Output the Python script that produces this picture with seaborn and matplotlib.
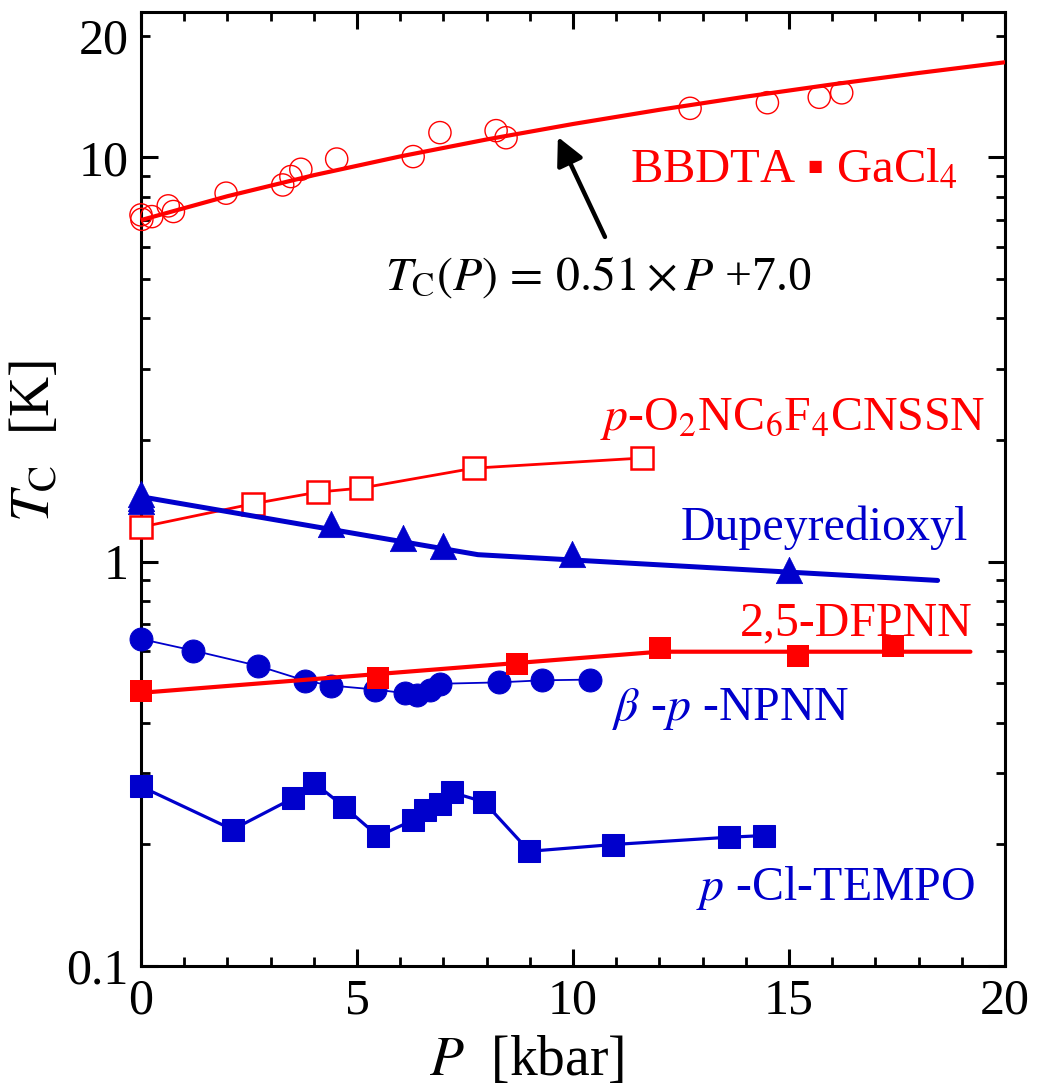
import numpy as np
import pandas as pd
import matplotlib
matplotlib.use("Agg")
import matplotlib.pyplot as plt
from matplotlib.ticker import FixedLocator, LogLocator, FuncFormatter, MultipleLocator
import seaborn as sns

# ---------------- data ----------------
bbdta_P = [0.0, 0.02, 0.25, 0.63, 0.75, 1.97, 3.28, 3.47, 3.70, 4.53, 6.30, 6.92, 8.22, 8.45, 12.71, 14.50, 15.70, 16.22]
bbdta_T = [7.21, 7.03, 7.14, 7.59, 7.35, 8.16, 8.55, 8.97, 9.35, 9.91, 10.05, 11.52, 11.65, 11.19, 13.23, 13.66, 14.09, 14.45]
fit_P = [0, 2, 4, 6, 8, 10, 12, 14, 16, 18, 20]
fit_T = [7.00, 8.02, 9.04, 10.06, 11.08, 12.10, 13.12, 14.14, 15.16, 16.18, 17.20]

po2_P = [0.0, 2.59, 4.10, 5.09, 7.71, 11.59]
po2_T = [1.218, 1.391, 1.487, 1.521, 1.704, 1.805]

dup_P = [0.0, 0.0, 0.0, 4.40, 6.07, 6.98, 9.97, 15.0]
dup_T = [1.47, 1.44, 1.415, 1.238, 1.148, 1.094, 1.048, 0.955]
dup_line_P = [0.0, 7.8, 18.44]
dup_line_T = [1.448, 1.041, 0.899]

dfpnn_P = [0.0, 5.49, 8.70, 12.01, 15.20, 17.40]
dfpnn_T = [0.478, 0.516, 0.560, 0.612, 0.586, 0.620]
dfpnn_line_P = [0.0, 12.0, 19.2]
dfpnn_line_T = [0.474, 0.599, 0.599]

npnn_P = [0.0, 1.21, 2.70, 3.80, 4.40, 5.42, 6.11, 6.40, 6.69, 6.91, 8.29, 9.29, 10.39]
npnn_T = [0.644, 0.603, 0.553, 0.508, 0.494, 0.483, 0.473, 0.469, 0.481, 0.499, 0.503, 0.509, 0.511]

tempo_P = [0.0, 2.12, 3.53, 4.01, 4.71, 5.49, 6.29, 6.57, 6.91, 7.19, 7.94, 8.99, 10.92, 13.60, 14.41]
tempo_T = [0.278, 0.2175, 0.2604, 0.2837, 0.2474, 0.2094, 0.2293, 0.2436, 0.2518, 0.2690, 0.2546, 0.1922, 0.1997, 0.2082, 0.2102]

x_ticks = [0, 5, 10, 15, 20]
y_labels = {0.1: "0.1", 1: "1", 10: "10", 20: "20"}

RED = "#ff0000"
BLUE = "#0000cc"

# ---------------- style ----------------
sns.set_style("ticks")
plt.rcParams["font.family"] = ["Liberation Serif", "DejaVu Sans"]
plt.rcParams["mathtext.fontset"] = "stix"
plt.rcParams["axes.labelcolor"] = "black"
plt.rcParams["text.color"] = "black"
plt.rcParams["xtick.color"] = "black"
plt.rcParams["ytick.color"] = "black"

fig = plt.figure(figsize=(10.4, 10.92), dpi=100)
ax = fig.add_axes([141 / 1040, 126 / 1092, 864 / 1040, 954 / 1092])

# BBDTA fit line + open circles
sns.lineplot(x=fit_P, y=fit_T, ax=ax, color=RED, lw=3.0, estimator=None, sort=False, zorder=3)
sns.scatterplot(x=bbdta_P, y=bbdta_T, ax=ax, marker="o", s=16 ** 2, facecolor="none",
                edgecolor=RED, linewidth=1.0, zorder=4, clip_on=False)

# p-O2NC6F4CNSSN open squares with line
sns.lineplot(x=po2_P, y=po2_T, ax=ax, color=RED, lw=2.0, estimator=None, sort=False, zorder=3,
             marker="s", markersize=15.5, markerfacecolor="white", markeredgecolor=RED,
             markeredgewidth=1.8, clip_on=False)

# Dupeyredioxyl line + triangles
sns.lineplot(x=dup_line_P, y=dup_line_T, ax=ax, color=BLUE, lw=3.6, estimator=None, sort=False, zorder=4)
sns.scatterplot(x=dup_P, y=dup_T, ax=ax, marker="^", s=19 ** 2, color=BLUE, edgecolor=BLUE,
                linewidth=0.5, zorder=5, clip_on=False)

# beta-p-NPNN circles with thin line
sns.lineplot(x=npnn_P, y=npnn_T, ax=ax, color=BLUE, lw=1.3, estimator=None, sort=False, zorder=3,
             marker="o", markersize=16.5, markerfacecolor=BLUE, markeredgecolor=BLUE, clip_on=False)

# 2,5-DFPNN line + filled squares
sns.lineplot(x=dfpnn_line_P, y=dfpnn_line_T, ax=ax, color=RED, lw=3.0, estimator=None, sort=False, zorder=4)
sns.scatterplot(x=dfpnn_P, y=dfpnn_T, ax=ax, marker="s", s=16.5 ** 2, color=RED, edgecolor=RED,
                linewidth=0, zorder=5, clip_on=False)

# p-Cl-TEMPO filled squares with line
sns.lineplot(x=tempo_P, y=tempo_T, ax=ax, color=BLUE, lw=2.3, estimator=None, sort=False, zorder=3,
             marker="s", markersize=16.5, markerfacecolor=BLUE, markeredgecolor=BLUE, clip_on=False)

# ---------------- axes ----------------
ax.set_yscale("log")
ax.set_xlim(0, 20)
ax.set_ylim(0.1, 22.9)
ax.xaxis.set_major_locator(FixedLocator(x_ticks))
ax.xaxis.set_minor_locator(MultipleLocator(1))
ax.yaxis.set_major_locator(FixedLocator([0.1, 1, 10]))
ax.yaxis.set_minor_locator(LogLocator(base=10, subs=np.arange(2, 10)))
ax.yaxis.set_major_formatter(FuncFormatter(lambda v, p: y_labels.get(round(v, 3), "")))
ax.yaxis.set_minor_formatter(FuncFormatter(lambda v, p: y_labels.get(round(v, 3), "")))

for s in ax.spines.values():
    s.set_linewidth(2.2)
    s.set_color("black")
    s.set_visible(True)

ax.tick_params(which="both", direction="in", top=True, right=True, colors="black",
               labelcolor="black")
ax.tick_params(which="major", length=12, width=2.2, labelsize=36, pad=9)
ax.tick_params(which="minor", length=6.5, width=2.0, labelsize=36, pad=9)

ax.set_xlabel(r"$P$  [kbar]", fontsize=40, color="black")
ax.set_ylabel(r"$T_{\mathrm{C}}$  [K]", fontsize=40, color="black")
ax.xaxis.set_label_coords(0.446, -0.072)
ax.yaxis.set_label_coords(-0.093, 0.55)

# ---------------- annotations ----------------
ax.text(0.566, 0.821, "BBDTA ▪ GaCl$_4$", transform=ax.transAxes, color=RED,
        fontsize=35, ha="left", va="baseline")
ax.text(0.282, 0.709, r"$T_{\mathrm{C}}(P)\,=\,0.51 \times P$ +7.0", transform=ax.transAxes,
        color="black", fontsize=34.5, ha="left", va="baseline")
ax.annotate("", xy=(9.65, 11.24), xytext=(10.74, 6.36),
            arrowprops=dict(arrowstyle="-|>", lw=3.2, color="black", mutation_scale=42,
                            shrinkA=0, shrinkB=0))
ax.text(0.977, 0.562, r"$p$-O$_2$NC$_6$F$_4$CNSSN", transform=ax.transAxes, color=RED,
        fontsize=34.5, ha="right", va="baseline")
ax.text(0.957, 0.4465, "Dupeyredioxyl", transform=ax.transAxes, color=BLUE,
        fontsize=34.5, ha="right", va="baseline")
ax.text(0.962, 0.346, "2,5-DFPNN", transform=ax.transAxes, color=RED,
        fontsize=34.5, ha="right", va="baseline")
ax.text(0.545, 0.258, r"$\beta$ -$p$ -NPNN", transform=ax.transAxes, color=BLUE,
        fontsize=34.5, ha="left", va="baseline")
ax.text(0.965, 0.069, r"$p$ -Cl-TEMPO", transform=ax.transAxes, color=BLUE,
        fontsize=34.5, ha="right", va="baseline")

fig.savefig("out.png", dpi=100)
